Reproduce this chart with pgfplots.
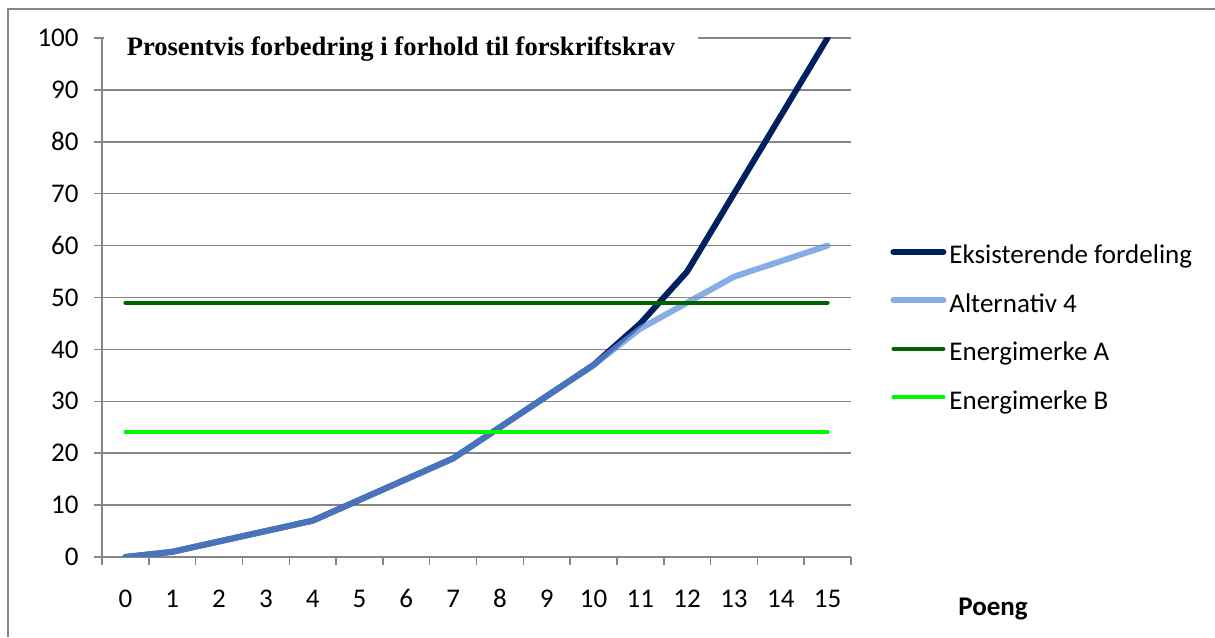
\documentclass[border=0pt]{standalone}
\usepackage{fontspec}
\setmainfont{Carlito}
\newfontfamily\titlefont{Liberation Serif}
\usepackage{pgfplots}
\pgfplotsset{compat=1.18}

\definecolor{navyline}{RGB}{0,32,96}
\definecolor{altblue}{RGB}{95,145,220}
\definecolor{merkeA}{RGB}{0,100,0}
\definecolor{merkeB}{RGB}{0,245,0}
\definecolor{axisgray}{RGB}{134,134,134}

\newcommand\tickfont{\fontsize{13.5}{16}\selectfont}

\begin{document}
\begin{tikzpicture}
\useasboundingbox (0,0) rectangle (607.5pt,318.5pt);
% chart area border
\draw[axisgray, line width=0.6pt] (4pt,0) -- (4pt,314pt) -- (607.5pt,314pt);
\begin{axis}[
  at={(51pt,40pt)}, anchor=south west,
  scale only axis, width=374.5pt, height=259.5pt,
  xmin=-0.5, xmax=15.5, ymin=0, ymax=100,
  axis lines*=left,
  axis line style={axisgray, line width=0.75pt},
  xtick={0,...,15},
  minor xtick={-0.5,0.5,...,15.5},
  ytick={0,10,...,100},
  tick align=outside,
  major tick length=4pt, minor tick length=4pt,
  tick style={axisgray, line width=0.75pt},
  major x tick style={draw=none},
  ymajorgrids,
  grid style={axisgray, line width=0.75pt},
  /pgf/number format/assume math mode=true,
  ticklabel style={font=\tickfont},
  yticklabel style={anchor=east, inner sep=0pt, xshift=-7.5pt},
  xticklabel style={anchor=base, inner sep=0pt, yshift=-21pt},
  xlabel={Poeng},
  xlabel style={at={(axis description cs:1.1429,-0.1118)}, anchor=base west,
    inner sep=0pt, font=\tickfont\bfseries},
  title={Prosentvis forbedring i forhold til forskriftskrav},
  % the default title style lifts the title by 6pt; undo that lift
  title style={at={(axis description cs:0.3992,0.9672)}, anchor=base, yshift=-6pt,
    font=\titlefont\bfseries\fontsize{13.3}{15}\selectfont,
    fill=white, inner sep=0pt, text height=13.5pt, text depth=7.5pt,
    minimum width=297pt},
  legend style={at={(axis description cs:1.0521,0.436)}, anchor=west,
    draw=none, fill=none, inner sep=0pt, font=\tickfont,
    row sep=12.25pt, column sep=1.5pt,
    nodes={inner sep=0pt, text height=9pt, text depth=3pt}},
  legend cell align=left,
  legend image code/.code={\draw[#1] (1.5pt,0.3em) -- (26.5pt,0.3em);},
]
\addplot[navyline, line width=3pt, line cap=round, line join=round]
  coordinates {(0,0) (1,1) (2,3) (3,5) (4,7) (5,11) (6,15) (7,19) (8,25)
               (9,31) (10,37) (11,45) (12,55) (13,70) (14,85) (15,100)};
\addlegendentry{Eksisterende fordeling}
\addplot[altblue, opacity=0.75, line width=3pt, line cap=round, line join=round]
  coordinates {(0,0) (1,1) (2,3) (3,5) (4,7) (5,11) (6,15) (7,19) (8,25)
               (9,31) (10,37) (11,44) (12,49) (13,54) (14,57) (15,60)};
\addlegendentry{Alternativ 4}
\addplot[merkeA, line width=2pt, line cap=round]
  coordinates {(0,49) (15,49)};
\addlegendentry{Energimerke A}
\addplot[merkeB, line width=2pt, line cap=round]
  coordinates {(0,24) (15,24)};
\addlegendentry{Energimerke B}
\end{axis}
\end{tikzpicture}
\end{document}
